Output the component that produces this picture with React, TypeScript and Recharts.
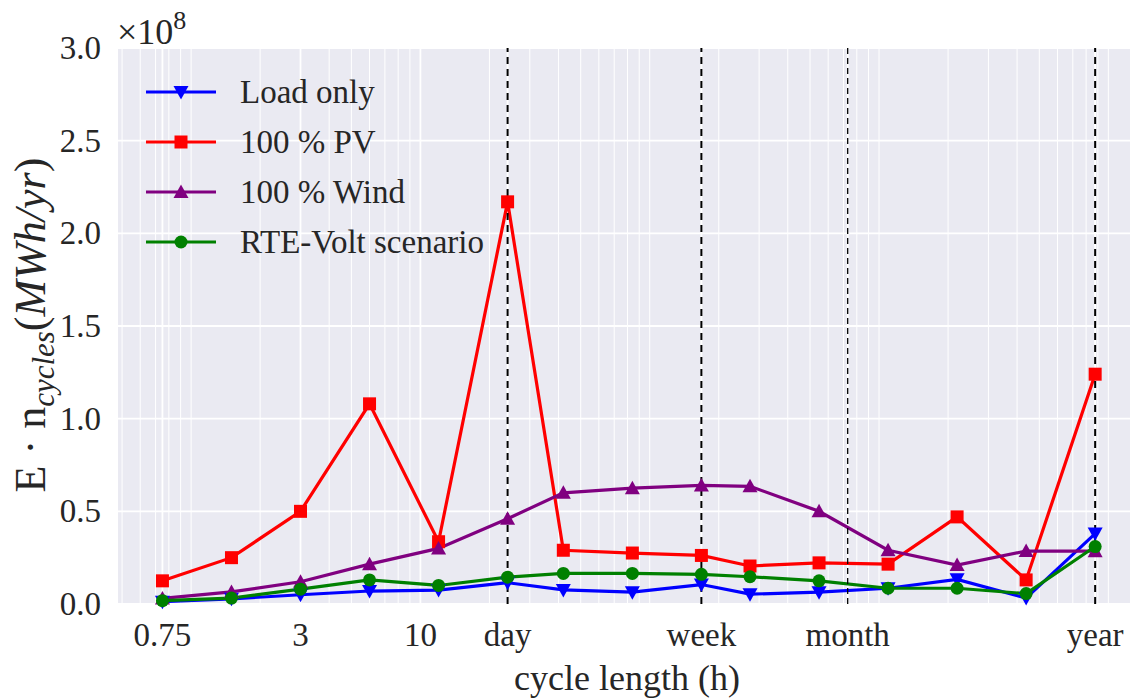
import React from "react";
import {
  LineChart,
  Line,
  XAxis,
  YAxis,
  CartesianGrid,
  ReferenceLine,
  Legend,
} from "recharts";

// cycle lengths in hours (log axis)
const hours = [0.75, 1.5, 3, 6, 12, 24, 42, 84, 168, 273.75, 547.5, 1095, 2190, 4380, 8760];

// energy x cycles, in units of 1e8 MWh/yr
const loadOnly = [0.012, 0.028, 0.05, 0.07, 0.075, 0.115, 0.076, 0.064, 0.105, 0.053, 0.064, 0.085, 0.133, 0.032, 0.38];
const pv100 = [0.125, 0.25, 0.5, 1.08, 0.336, 2.17, 0.29, 0.275, 0.262, 0.205, 0.222, 0.215, 0.47, 0.13, 1.24];
const wind100 = [0.03, 0.065, 0.12, 0.215, 0.3, 0.46, 0.6, 0.625, 0.64, 0.635, 0.5, 0.29, 0.21, 0.286, 0.285];
const rteVolt = [0.018, 0.032, 0.08, 0.13, 0.1, 0.145, 0.165, 0.165, 0.16, 0.147, 0.125, 0.085, 0.085, 0.056, 0.31];

const tickHours = [0.75, 3, 10, 24, 168, 730, 8760];
const tickNames = ["0.75", "3", "10", "day", "week", "month", "year"];
const yTicks = [0, 0.5, 1, 1.5, 2, 2.5, 3];

// day / week / month / year markers
const markerHours = [24, 168, 730, 8760];
const markerWidths = [2, 2, 1.3, 2];

// log minor grid positions
const minorGrid = [
  0.5, 0.6, 0.7, 0.8, 0.9, 1, 2, 4, 5, 6, 7, 8, 9,
  20, 30, 40, 50, 60, 70, 80, 90,
  100, 200, 300, 400, 500, 600, 700, 800, 900,
  1000, 2000, 3000, 4000, 5000, 6000, 7000, 8000, 9000, 10000,
];

const FONT = "'Liberation Serif', 'DejaVu Serif', serif";
const INK = "#262626";
const LW = 3.2;

const series = [
  { key: "load", name: "Load only", color: "#0000ff", marker: "tri-down" },
  { key: "pv", name: "100 % PV", color: "#ff0000", marker: "square" },
  { key: "wind", name: "100 % Wind", color: "#800080", marker: "tri-up" },
  { key: "rte", name: "RTE-Volt scenario", color: "#008000", marker: "circle" },
];

const rows = hours.map((h, i) => ({
  h,
  load: loadOnly[i],
  pv: pv100[i],
  wind: wind100[i],
  rte: rteVolt[i],
}));

function Marker({ kind, cx, cy, color }: { kind: string; cx: number; cy: number; color: string }) {
  if (kind === "square") {
    return <rect x={cx - 6.5} y={cy - 6.5} width={13} height={13} fill={color} />;
  }
  if (kind === "tri-up") {
    return <polygon points={`${cx - 7.5},${cy + 6} ${cx + 7.5},${cy + 6} ${cx},${cy - 7.5}`} fill={color} />;
  }
  if (kind === "tri-down") {
    return <polygon points={`${cx - 7.5},${cy - 6} ${cx + 7.5},${cy - 6} ${cx},${cy + 7.5}`} fill={color} />;
  }
  return <circle cx={cx} cy={cy} r={6.5} fill={color} />;
}

const makeDot = (kind: string, color: string) => (props: any) => {
  const { cx, cy, index } = props;
  if (cx == null || cy == null) return <g key={index} />;
  return <Marker key={index} kind={kind} cx={cx} cy={cy} color={color} />;
};

const XTick = (props: any) => {
  const { x, payload } = props;
  const i = tickHours.indexOf(payload.value);
  return (
    <text x={x} y={646} textAnchor="middle" fontFamily={FONT} fontSize={33} fill={INK}>
      {i >= 0 ? tickNames[i] : ""}
    </text>
  );
};

const YTick = (props: any) => {
  const { y, payload } = props;
  return (
    <text x={101} y={y + 11} textAnchor="end" fontFamily={FONT} fontSize={33} fill={INK}>
      {payload.value.toFixed(1)}
    </text>
  );
};

const YLabel = () => (
  <g fontFamily={FONT} fill={INK}>
    <text x={117} y={44} fontSize={36}>
      ×10<tspan dy={-15} fontSize={26}>8</tspan>
    </text>
    <text transform="rotate(-90, 45, 325)" x={45} y={325} textAnchor="middle" fontSize={44}>
      E · n
      <tspan dy={9} fontSize={31} fontStyle="italic">cycles</tspan>
      <tspan dy={-9}>(</tspan>
      <tspan fontStyle="italic">MWh/yr</tspan>
      <tspan>)</tspan>
    </text>
  </g>
);

const XLabel = (props: any) => {
  const { viewBox } = props;
  return (
    <text x={viewBox.x + viewBox.width / 2 - 2} y={690} textAnchor="middle" fontFamily={FONT} fontSize={36} fill={INK}>
      cycle length (h)
    </text>
  );
};

const LegendBox = () => (
  <div style={{ fontFamily: FONT, fontSize: 33, color: INK }}>
    {series.map((s) => (
      <div key={s.key} style={{ display: "flex", alignItems: "center", height: 50 }}>
        <svg width={94} height={24} style={{ display: "block" }}>
          <line x1={0} y1={12} x2={70} y2={12} stroke={s.color} strokeWidth={LW} />
          <Marker kind={s.marker} cx={35} cy={12} color={s.color} />
        </svg>
        <span style={{ whiteSpace: "nowrap", lineHeight: "50px" }}>{s.name}</span>
      </div>
    ))}
  </div>
);

export default function App() {
  return (
    <div
      style={{
        position: "fixed",
        left: 0,
        top: 0,
        width: 1130,
        height: 698,
        overflow: "hidden",
        background: "#fff",
      }}
    >
      <LineChart width={1160} height={698} data={rows} margin={{ top: 48, right: 20, bottom: 0, left: 0 }}>
        <CartesianGrid fill="#EAEAF2" stroke="#ffffff" strokeWidth={1.8} vertical={false} />
        {minorGrid.map((v) => (
          <ReferenceLine key={`m${v}`} x={v} stroke="#ffffff" strokeWidth={1} />
        ))}
        {tickHours.map((v) => (
          <ReferenceLine key={`t${v}`} x={v} stroke="#ffffff" strokeWidth={1.8} />
        ))}
        <XAxis
          dataKey="h"
          type="number"
          scale="log"
          domain={[0.48, 13742]}
          allowDataOverflow
          ticks={tickHours}
          interval={0}
          tick={XTick}
          tickLine={false}
          axisLine={false}
          height={94}
          label={<XLabel />}
        />
        <YAxis
          type="number"
          domain={[0, 3]}
          ticks={yTicks}
          interval={0}
          tick={YTick}
          tickLine={false}
          axisLine={false}
          width={118}
          label={<YLabel />}
        />
        <Legend
          layout="horizontal"
          verticalAlign="middle"
          align="center"
          content={<LegendBox />}
          wrapperStyle={{ position: "absolute", left: 146, top: 67, width: "auto" }}
        />
        {series.map((s) => (
          <Line
            key={s.key}
            dataKey={s.key}
            name={s.name}
            type="linear"
            stroke={s.color}
            strokeWidth={LW}
            dot={makeDot(s.marker, s.color)}
            activeDot={false}
            isAnimationActive={false}
          />
        ))}
        {markerHours.map((v, i) => (
          <ReferenceLine
            key={`d${v}`}
            x={v}
            stroke="#000000"
            strokeWidth={markerWidths[i]}
            strokeDasharray={markerWidths[i] > 1.5 ? "7 5" : "6 4"}
          />
        ))}
      </LineChart>
    </div>
  );
}
